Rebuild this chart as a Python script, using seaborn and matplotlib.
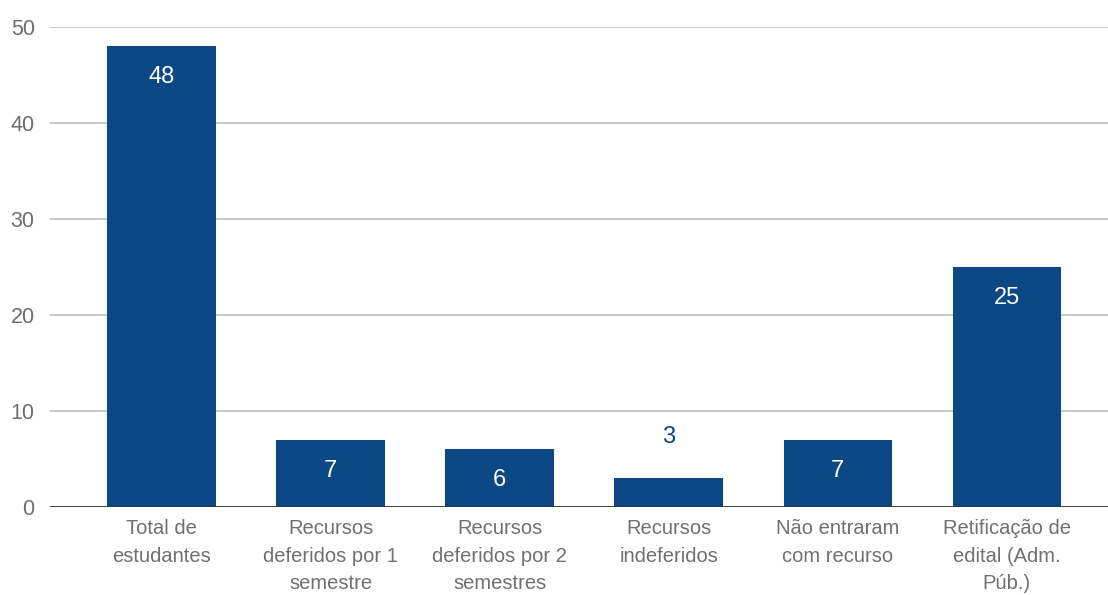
import matplotlib
matplotlib.use("Agg")
import matplotlib.pyplot as plt
import seaborn as sns
import pandas as pd

categories = ["Total de\nestudantes", "Recursos\ndeferidos por 1\nsemestre",
              "Recursos\ndeferidos por 2\nsemestres", "Recursos\nindeferidos",
              "Não entraram\ncom recurso", "Retificação de\nedital (Adm.\nPúb.)"]
values = [48, 7, 6, 3, 7, 25]
yticks = [0, 10, 20, 30, 40, 50]

sns.set_theme(style="white")
plt.rcParams['font.family'] = ['Liberation Sans', 'DejaVu Sans']

bar_color = "#0c4786"
df = pd.DataFrame({"cat": categories, "val": values})

fig = plt.figure(figsize=(11.08, 5.95), dpi=100)
ax = fig.add_axes([50/1108, 1-507/595, 1-50/1108, (507-27)/595])
sns.barplot(data=df, x="cat", y="val", color=bar_color, width=0.64,
            saturation=1, ax=ax, zorder=3, linewidth=0)

ax.set_ylim(0, 50)
ax.set_xlim(-0.66, 5.6)
ax.set_yticks(yticks)
ax.set_yticklabels([str(t) for t in yticks], color="#6f6f6f", fontsize=15.5)
ax.grid(axis="y", color="#c4c4c4", linewidth=1.3, zorder=0)
ax.axhline(0, color="#333333", linewidth=2, zorder=4)
for s in ax.spines.values():
    s.set_visible(False)
ax.tick_params(axis="y", length=0, pad=11)
ax.tick_params(axis="x", length=0, pad=9)
ax.set_xlabel("")
ax.set_ylabel("")
for lbl in ax.get_xticklabels():
    lbl.set_color("#707070")
    lbl.set_fontsize(14.5)
    lbl.set_linespacing(1.55)
    lbl.set_verticalalignment("top")

for i, v in enumerate(values):
    if v >= 5:
        ax.annotate(str(v), (i, v), xytext=(0, -31), textcoords="offset pixels",
                    ha="center", va="center", color="white", fontsize=17, zorder=5)
    else:
        ax.annotate(str(v), (i, v), xytext=(0, 41), textcoords="offset pixels",
                    ha="center", va="center", color=bar_color, fontsize=17, zorder=5)

fig.savefig("out.png", dpi=100)
